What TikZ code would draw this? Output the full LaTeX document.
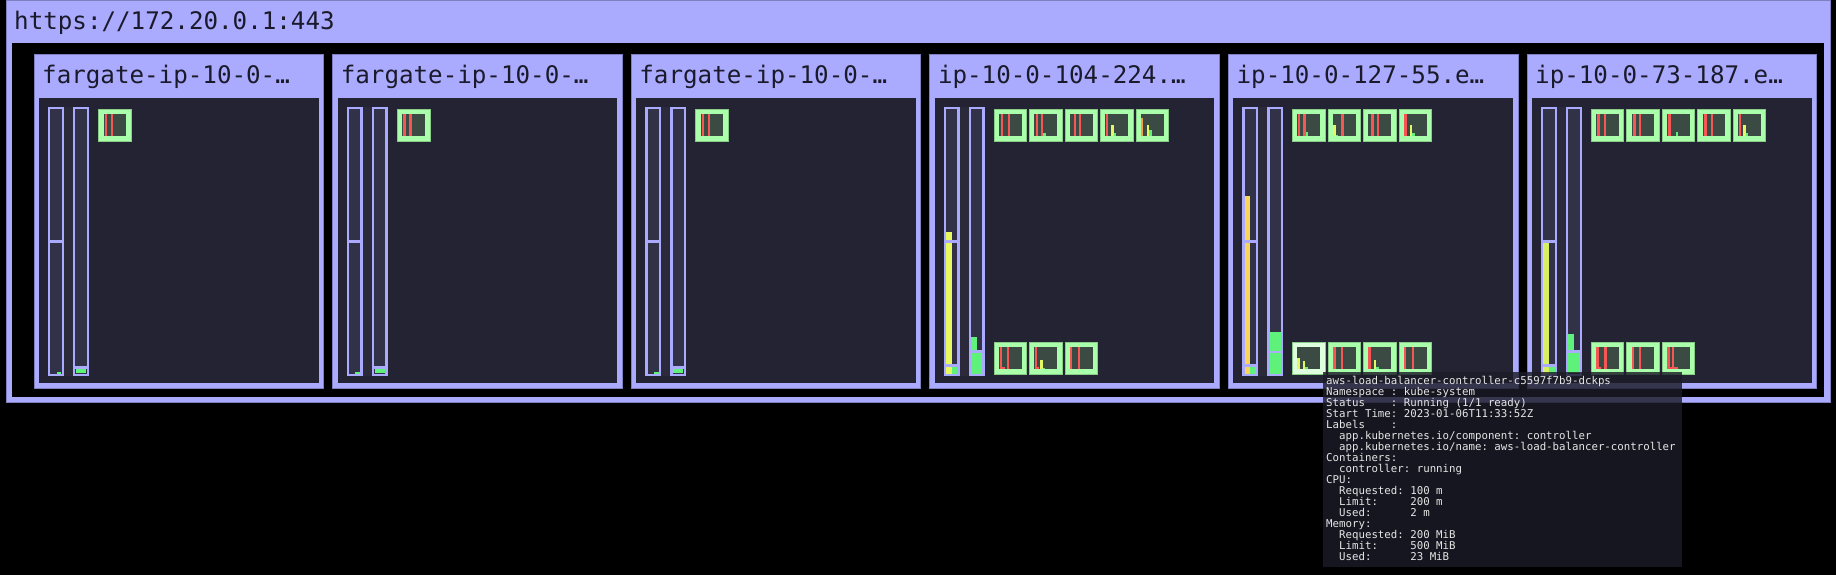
\documentclass[tikz,border=0pt]{standalone}
\usepackage{fontspec}
\newfontfamily\mono{DejaVu Sans Mono}
\definecolor{lav}{HTML}{AAAAFF}
\definecolor{lavedge}{HTML}{8080C0}
\definecolor{panel}{HTML}{232333}
\definecolor{strip}{HTML}{2A2A3A}
\definecolor{barbg}{HTML}{313148}
\definecolor{podg}{HTML}{AAFFAA}
\definecolor{podhl}{HTML}{DDFFDD}
\definecolor{podedge}{HTML}{88CC88}
\definecolor{podin}{HTML}{3C4A44}
\definecolor{podred}{HTML}{F75656}
\definecolor{pyel}{HTML}{E4F864}
\definecolor{yel}{HTML}{E8F860}
\definecolor{gold}{HTML}{F8D45A}
\definecolor{yg}{HTML}{D8F060}
\definecolor{grn}{HTML}{5EF27A}
\definecolor{orng}{HTML}{F5A050}
\definecolor{titletext}{HTML}{1A1A2A}
\definecolor{tipbg}{HTML}{1C1C28}
\definecolor{tiptext}{HTML}{E6E6E6}
\newcommand\podBox[3][podg]{\fill[#1, draw=podedge, line width=.6pt] (#2,#3) rectangle ++(32.7,32.3); \fill[podin] (#2+5,#3+5) rectangle ++(22.7,22.3);}
\newcommand\pR[3]{\fill[podred] (#1+5+#3,#2+5) rectangle ++(2.3,22.3);}
\newcommand\pB[5]{\fill[#3] (#1+5+#4,#2+27.3) rectangle ++(2.5,-#5);}
\newcommand\pL[4]{\fill[podred] (#1+5+#3,#2+27.3) rectangle ++(#4,-2.5);}
\tikzset{
  titlefont/.style={font=\mono\fontsize{24.2}{28}\selectfont, text=titletext, inner sep=0pt},
  tipfont/.style={font=\mono\frenchspacing\fontsize{10.75}{11}\selectfont, text=tiptext, inner sep=0pt, align=left},
  barframe/.style={fill=barbg, draw=lav, line width=2.4pt},
  divider/.style={fill=lav}
}
\begin{document}
\begin{tikzpicture}[x=1pt,y=-1pt]
\fill[black] (0,0) rectangle (1836,575);
\useasboundingbox (0,0) rectangle (1836,575);
% cluster frame
\fill[lav, draw=lavedge, line width=.8pt] (6,0.5) rectangle (1830,402);
\fill[black] (12,43) rectangle (1824,397);
\node[titlefont, anchor=base west] (ctitle) at (14,29.5) {https://172.20.0.1:443};
% node frames
\foreach \i/\txt in {0/{fargate-ip-10-0-…},1/{fargate-ip-10-0-…},2/{fargate-ip-10-0-…},3/{ip-10-0-104-224.…},4/{ip-10-0-127-55.e…},5/{ip-10-0-73-187.e…}}{
  \pgfmathsetmacro\X{34+\i*298.6}
  \fill[lav, draw=lavedge, line width=.8pt] (\X,54) rectangle ++(289.5,334);
  \fill[panel] (\X+5,98) rectangle (\X+284.5,383);
  \node[titlefont, anchor=base west] (t\i) at (\X+8,84) {\txt};
  \fill[strip] (\X+14,107) rectangle (\X+55,376);
  \path[barframe] (\X+15.2,108.2) rectangle (\X+28.8,374.8);
  \path[barframe] (\X+40.2,108.2) rectangle (\X+53.8,374.8);
}
% fargate nodes
\foreach \X in {34,332.6,631.2}{
  \fill[divider] (\X+16.4,240) rectangle (\X+27.6,242.7);
  \fill[grn] (\X+22.5,372.4) rectangle (\X+27.3,374);
  \fill[divider] (\X+41.4,366) rectangle (\X+52.6,368.5);
  \fill[grn] (\X+42,369.2) rectangle (\X+52,373.2);
  \podBox{\X+64.5}{109}
  \pR{\X+64.5}{109}{1.2}\pR{\X+64.5}{109}{7.1}
}
% node 4 bars
\def\X{929.8}
\fill[yel] (\X+16.4,232) rectangle (\X+22,364);
\fill[divider] (\X+16.4,240) rectangle (\X+27.6,242.7);
\fill[divider] (\X+16.4,364) rectangle (\X+27.6,366.7);
\fill[yel] (\X+16.4,366.7) rectangle (\X+22,373.6);
\fill[grn] (\X+22,366.7) rectangle (\X+27.6,373.6);
\fill[grn] (\X+41.4,336.7) rectangle (\X+47,350);
\fill[divider] (\X+41.4,350) rectangle (\X+52.6,352.7);
\fill[grn] (\X+41.4,352.7) rectangle (\X+52.6,373.6);
% node 5 bars
\def\X{1228.4}
\fill[gold] (\X+16.4,196) rectangle (\X+22,364);
\fill[divider] (\X+16.4,240) rectangle (\X+27.6,242.7);
\fill[divider] (\X+16.4,364) rectangle (\X+27.6,366.7);
\fill[gold] (\X+16.4,366.7) rectangle (\X+22,373.6);
\fill[grn] (\X+22,366.7) rectangle (\X+27.6,373.6);
\fill[grn] (\X+41.4,331.7) rectangle (\X+52.6,350.7);
\fill[divider] (\X+41.4,350.7) rectangle (\X+52.6,353.3);
\fill[grn] (\X+41.4,353.3) rectangle (\X+52.6,373.6);
% node 6 bars
\def\X{1527}
\fill[divider] (\X+16.4,240) rectangle (\X+27.6,242.7);
\fill[yg] (\X+16.4,242.7) rectangle (\X+22,364);
\fill[divider] (\X+16.4,364) rectangle (\X+27.6,366.7);
\fill[yg] (\X+16.4,366.7) rectangle (\X+22,373.6);
\fill[grn] (\X+22,366.7) rectangle (\X+27.6,373.6);
\fill[grn] (\X+41.4,334) rectangle (\X+47,350);
\fill[divider] (\X+41.4,350) rectangle (\X+52.6,352.7);
\fill[grn] (\X+41.4,352.7) rectangle (\X+52.6,372.6);
% node 4 pods
\podBox{993.8}{109}\pR{993.8}{109}{2.3}\pR{993.8}{109}{8.7}
\podBox{1029.3}{109}\pR{1029.3}{109}{1.3}\pR{1029.3}{109}{6.3}\pB{1029.3}{109}{grn}{8.7}{3.3}
\podBox{1064.8}{109}\pR{1064.8}{109}{4}\pR{1064.8}{109}{9.3}
\podBox{1100.3}{109}\pR{1100.3}{109}{0.7}\pB{1100.3}{109}{pyel}{6}{11}\pB{1100.3}{109}{grn}{8.5}{3.3}
\podBox{1135.8}{109}\pB{1135.8}{109}{orng}{0}{18}\pB{1135.8}{109}{pyel}{5.7}{11}\pB{1135.8}{109}{grn}{8.2}{6}
\podBox{993.8}{342}\pR{993.8}{342}{1}\pL{993.8}{342}{3.3}{2.7}\pR{993.8}{342}{7.7}
\podBox{1029.3}{342}\pR{1029.3}{342}{0.3}\pL{1029.3}{342}{2.6}{2.4}\pB{1029.3}{342}{pyel}{5.7}{9.3}\pB{1029.3}{342}{grn}{8.2}{1.7}
\podBox{1064.8}{342}\pR{1064.8}{342}{0}\pR{1064.8}{342}{7.7}
% node 5 pods
\podBox{1292.4}{109}\pR{1292.4}{109}{0.7}\pR{1292.4}{109}{6}\pB{1292.4}{109}{grn}{8.4}{4.3}
\podBox{1327.9}{109}\pB{1327.9}{109}{pyel}{0.3}{11.7}\pB{1327.9}{109}{grn}{2.8}{1.3}\pR{1327.9}{109}{8.3}
\podBox{1363.4}{109}\pR{1363.4}{109}{3}\pR{1363.4}{109}{8.7}
\podBox{1398.9}{109}\pR{1398.9}{109}{0.3}\pB{1398.9}{109}{pyel}{6}{11.7}\pB{1398.9}{109}{grn}{8.5}{3.7}
\podBox[podhl]{1292.4}{342}\pB{1292.4}{342}{pyel}{0}{11.3}\pB{1292.4}{342}{pyel}{5.3}{8}\pB{1292.4}{342}{grn}{7.8}{2}
\podBox{1327.9}{342}\pR{1327.9}{342}{0.3}\pR{1327.9}{342}{7.6}
\podBox{1363.4}{342}\pR{1363.4}{342}{0}\pB{1363.4}{342}{pyel}{5.5}{9}\pB{1363.4}{342}{grn}{8}{2}
\podBox{1398.9}{342}\pR{1398.9}{342}{0}\pR{1398.9}{342}{8}
% node 6 pods
\podBox{1591}{109}\pR{1591}{109}{1.3}\pR{1591}{109}{8}
\podBox{1626.5}{109}\pR{1626.5}{109}{1.9}\pR{1626.5}{109}{7.3}
\podBox{1662}{109}\pR{1662}{109}{1.2}\pB{1662}{109}{grn}{8.5}{4}
\podBox{1697.5}{109}\pR{1697.5}{109}{1.8}\pR{1697.5}{109}{8.5}
\podBox{1733}{109}\pR{1733}{109}{0.7}\pB{1733}{109}{pyel}{5.1}{11}\pB{1733}{109}{grn}{7.6}{3.3}
\podBox{1591}{342}\pR{1591}{342}{0.3}\pL{1591}{342}{2.6}{2.5}\pR{1591}{342}{8.3}
\podBox{1626.5}{342}\pR{1626.5}{342}{0.6}\pR{1626.5}{342}{7.3}
\podBox{1662}{342}\pR{1662}{342}{0.2}\pL{1662}{342}{2.5}{8.5}\pR{1662}{342}{4.9}
% tooltip
\fill[tipbg, opacity=0.82] (1322.5,372) rectangle (1682,567);
\node[tipfont, anchor=north west] (tiptext) at (1326,376) {aws-load-balancer-controller-c5597f7b9-dckps\\
Namespace~:~kube-system\\
Status~~~~:~Running~(1/1~ready)\\
Start~Time:~2023-01-06T11:33:52Z\\
Labels~~~~:\\
~~app.kubernetes.io/component:~controller\\
~~app.kubernetes.io/name:~aws-load-balancer-controller\\
Containers:\\
~~controller:~running\\
CPU:\\
~~Requested:~100~m\\
~~Limit:~~~~~200~m\\
~~Used:~~~~~~2~m\\
Memory:\\
~~Requested:~200~MiB\\
~~Limit:~~~~~500~MiB\\
~~Used:~~~~~~23~MiB};
\end{tikzpicture}
\end{document}
